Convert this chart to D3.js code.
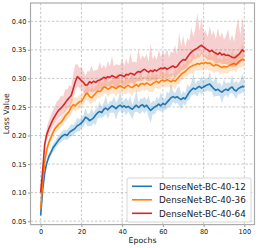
<!DOCTYPE html>
<html>
<head>
<meta charset="utf-8">
<script src="https://cdn.jsdelivr.net/npm/d3@7"></script>
<style>
  html, body { margin: 0; padding: 0; background: #fff; overflow: hidden; }
  svg { display: block; font-family: "DejaVu Sans", sans-serif; }
</style>
</head>
<body>
<svg id="chart" width="258" height="248" font-family="DejaVu Sans, sans-serif"></svg>
<script>
// Loss-Kurven der drei DenseNet-Varianten, ein Wert pro Epoche (0..100)
const epochs = d3.range(0, 101);

const seriesNames = ["DenseNet-BC-40-12", "DenseNet-BC-40-36", "DenseNet-BC-40-64"];
const seriesColors = ["#1f77b4", "#ff7f0e", "#d62728"];

const loss12 = [
  0.060, 0.105, 0.135, 0.152, 0.163, 0.170, 0.178, 0.183, 0.188, 0.193,
  0.197, 0.200, 0.202, 0.200, 0.205, 0.208, 0.210, 0.213, 0.217, 0.219,
  0.222, 0.226, 0.232, 0.230, 0.226, 0.228, 0.231, 0.236, 0.240, 0.242,
  0.240, 0.246, 0.248, 0.245, 0.249, 0.252, 0.250, 0.247, 0.251, 0.253,
  0.250, 0.252, 0.249, 0.251, 0.248, 0.246, 0.250, 0.253, 0.249, 0.252,
  0.254, 0.250, 0.253, 0.248, 0.244, 0.247, 0.250, 0.252, 0.255, 0.252,
  0.256, 0.254, 0.258, 0.262, 0.266, 0.268, 0.266, 0.268, 0.265, 0.263,
  0.266, 0.264, 0.270, 0.276, 0.280, 0.283, 0.281, 0.284, 0.286, 0.283,
  0.285, 0.287, 0.289, 0.290, 0.286, 0.282, 0.279, 0.281, 0.278, 0.276,
  0.279, 0.281, 0.279, 0.283, 0.285, 0.280, 0.278, 0.282, 0.284, 0.286,
  0.285
];
const loss36 = [
  0.072, 0.120, 0.155, 0.175, 0.188, 0.196, 0.205, 0.212, 0.216, 0.220,
  0.223, 0.228, 0.234, 0.238, 0.242, 0.250, 0.254, 0.252, 0.256, 0.259,
  0.260, 0.265, 0.272, 0.274, 0.268, 0.266, 0.270, 0.274, 0.278, 0.277,
  0.280, 0.285, 0.284, 0.281, 0.283, 0.286, 0.284, 0.282, 0.285, 0.287,
  0.285, 0.283, 0.286, 0.288, 0.285, 0.284, 0.287, 0.289, 0.286, 0.290,
  0.291, 0.289, 0.292, 0.290, 0.288, 0.291, 0.293, 0.295, 0.292, 0.296,
  0.297, 0.295, 0.298, 0.296, 0.294, 0.297, 0.295, 0.299, 0.303, 0.307,
  0.310, 0.312, 0.316, 0.319, 0.321, 0.323, 0.324, 0.326, 0.325, 0.327,
  0.326, 0.328, 0.326, 0.327, 0.324, 0.322, 0.324, 0.323, 0.321, 0.319,
  0.321, 0.320, 0.321, 0.323, 0.325, 0.326, 0.324, 0.328, 0.331, 0.333,
  0.332
];
const loss64 = [
  0.100, 0.140, 0.185, 0.202, 0.212, 0.220, 0.228, 0.234, 0.240, 0.245,
  0.248, 0.252, 0.257, 0.262, 0.266, 0.270, 0.282, 0.294, 0.303, 0.300,
  0.296, 0.293, 0.288, 0.289, 0.294, 0.292, 0.295, 0.293, 0.296, 0.297,
  0.299, 0.302, 0.300, 0.303, 0.302, 0.305, 0.303, 0.301, 0.304, 0.306,
  0.305, 0.303, 0.307, 0.306, 0.309, 0.308, 0.306, 0.310, 0.312, 0.311,
  0.314, 0.316, 0.313, 0.311, 0.314, 0.312, 0.315, 0.313, 0.316, 0.318,
  0.317, 0.319, 0.316, 0.318, 0.320, 0.322, 0.319, 0.321, 0.326, 0.330,
  0.333, 0.332, 0.337, 0.342, 0.346, 0.349, 0.351, 0.353, 0.356, 0.358,
  0.355, 0.352, 0.350, 0.347, 0.349, 0.346, 0.344, 0.342, 0.345, 0.341,
  0.343, 0.340, 0.341, 0.339, 0.337, 0.336, 0.338, 0.341, 0.345, 0.350,
  0.347
];

// Ausschläge über / unter dem Mittelwert, in Tausendstel
const up12 = [
  3, 4, 5, 5, 6, 6, 7, 7, 8, 8, 8,
  9, 8, 10, 9, 12, 8, 10, 14, 9, 11,
  9, 16, 8, 12, 20, 9, 11, 8, 18, 10,
  12, 22, 9, 11, 8, 19, 10, 12, 26, 9,
  10, 17, 9, 21, 8, 12, 28, 9, 13, 10,
  18, 9, 22, 11, 14, 9, 16, 8, 24, 10,
  9, 19, 11, 25, 10, 8, 14, 22, 9, 12,
  10, 20, 9, 13, 27, 9, 12, 10, 21, 11,
  14, 9, 22, 10, 12, 26, 9, 15, 10, 20,
  10, 14, 9, 21, 11, 18, 9, 12, 22, 10
];
const down12 = [
  3, 4, 5, 5, 6, 6, 7, 7, 7, 8, 8,
  8, 9, 8, 10, 9, 11, 8, 10, 12, 9,
  11, 9, 14, 10, 12, 9, 18, 10, 11, 9,
  13, 10, 16, 9, 12, 10, 20, 11, 9, 12,
  10, 14, 9, 12, 18, 10, 11, 9, 15, 10,
  12, 9, 16, 22, 10, 13, 9, 11, 10, 14,
  9, 12, 10, 15, 9, 11, 10, 13, 18, 10,
  12, 9, 14, 10, 11, 9, 16, 10, 12, 9,
  11, 10, 13, 9, 15, 10, 12, 9, 20, 11,
  10, 13, 9, 11, 10, 14, 9, 12, 10, 11
];
const up36 = [
  4, 5, 6, 6, 7, 7, 8, 8, 9, 9, 10,
  10, 11, 12, 10, 14, 11, 16, 10, 12, 11,
  13, 10, 18, 11, 22, 10, 14, 11, 20, 12,
  11, 24, 10, 13, 11, 21, 12, 28, 10, 14,
  12, 20, 10, 14, 26, 11, 15, 12, 24, 11,
  14, 11, 22, 12, 30, 11, 16, 10, 23, 13,
  12, 25, 11, 15, 10, 22, 13, 27, 11, 16,
  12, 21, 11, 15, 28, 10, 19, 13, 25, 12,
  15, 11, 24, 13, 18, 27, 11, 16, 12, 22,
  13, 19, 11, 26, 14, 21, 12, 17, 28, 14
];
const down36 = [
  4, 5, 6, 6, 7, 7, 8, 8, 9, 9, 9,
  10, 9, 11, 10, 12, 9, 11, 10, 12, 10,
  11, 10, 13, 11, 12, 10, 14, 11, 12, 10,
  12, 10, 14, 11, 13, 10, 15, 11, 12, 10,
  11, 13, 10, 12, 15, 11, 12, 10, 14, 11,
  12, 10, 14, 11, 16, 10, 12, 11, 13, 10,
  11, 14, 10, 12, 11, 15, 10, 13, 11, 12,
  10, 13, 11, 12, 14, 10, 12, 11, 13, 10,
  12, 11, 14, 10, 13, 12, 11, 14, 10, 12,
  11, 13, 10, 12, 11, 14, 10, 12, 13, 11
];
const up64 = [
  6, 8, 10, 12, 14, 15, 16, 18, 20, 18, 22,
  16, 24, 18, 22, 16, 26, 30, 22, 18, 24,
  20, 16, 24, 18, 30, 17, 22, 19, 32, 18,
  22, 17, 28, 19, 34, 18, 24, 20, 17, 30,
  19, 28, 18, 36, 20, 24, 17, 40, 21, 27,
  19, 30, 18, 48, 21, 26, 19, 34, 20, 30,
  22, 36, 19, 28, 22, 40, 20, 55, 26, 42,
  22, 34, 24, 44, 23, 38, 62, 27, 48, 25,
  32, 22, 44, 26, 38, 24, 46, 27, 40, 25,
  34, 46, 26, 40, 28, 50, 64, 30, 56, 36
];
const down64 = [
  5, 7, 9, 10, 11, 12, 12, 13, 13, 14, 14,
  14, 15, 14, 16, 15, 17, 16, 18, 16, 17,
  16, 18, 15, 17, 16, 19, 15, 17, 16, 18,
  15, 17, 16, 18, 15, 17, 16, 19, 15, 17,
  16, 18, 15, 17, 16, 19, 15, 17, 16, 18,
  15, 17, 16, 18, 15, 19, 16, 17, 15, 18,
  16, 17, 15, 18, 16, 19, 15, 17, 16, 18,
  15, 17, 16, 18, 15, 17, 16, 19, 15, 17,
  16, 18, 15, 17, 16, 19, 15, 17, 16, 18,
  15, 17, 16, 18, 15, 17, 16, 19, 15, 17
];

const xTicks = [0, 20, 40, 60, 80, 100];
const yTicks = [0.05, 0.10, 0.15, 0.20, 0.25, 0.30, 0.35, 0.40];

const series = [
  { name: seriesNames[0], color: seriesColors[0], mean: loss12, up: up12, down: down12 },
  { name: seriesNames[1], color: seriesColors[1], mean: loss36, up: up36, down: down36 },
  { name: seriesNames[2], color: seriesColors[2], mean: loss64, up: up64, down: down64 }
];

const width = 258, height = 248;
const margin = { top: 3, right: 3.5, bottom: 23.4, left: 30.5 };
const innerWidth  = width  - margin.left - margin.right;
const innerHeight = height - margin.top  - margin.bottom;

const svg = d3.select("#chart");
const g = svg.append("g")
  .attr("transform", `translate(${margin.left},${margin.top})`);

const x = d3.scaleLinear().domain([-5, 105]).range([0, innerWidth]);
const y = d3.scaleLinear().domain([0.044, 0.432]).range([innerHeight, 0]);

// Schriftgrößen (DejaVu Sans, an die Textbreiten im Bild angepasst)
const fsTick = 6.6, fsTitle = 7.8, fsLegend = 8.8;

// Gitter
g.append("g")
  .selectAll("line")
  .data(xTicks)
  .join("line")
  .attr("x1", d => x(d)).attr("x2", d => x(d))
  .attr("y1", 0).attr("y2", innerHeight)
  .attr("stroke", "#b0b0b0").attr("stroke-width", 0.7)
  .attr("stroke-dasharray", "2.5,1.8");
g.append("g")
  .selectAll("line")
  .data(yTicks)
  .join("line")
  .attr("x1", 0).attr("x2", innerWidth)
  .attr("y1", d => y(d)).attr("y2", d => y(d))
  .attr("stroke", "#b0b0b0").attr("stroke-width", 0.7)
  .attr("stroke-dasharray", "2.5,1.8");

// Bänder und Mittelwertlinien
const area = d3.area()
  .x(d => x(d.e))
  .y0(d => y(d.m - d.lo / 1000))
  .y1(d => y(d.m + d.hi / 1000));

const line = d3.line()
  .x((d, i) => x(epochs[i]))
  .y(d => y(d));

series.forEach(s => {
  const pts = s.mean.map((m, i) => ({ e: epochs[i], m, hi: s.up[i], lo: s.down[i] }));
  g.append("path")
    .datum(pts)
    .attr("d", area)
    .attr("fill", s.color)
    .attr("fill-opacity", 0.22);
  g.append("path")
    .datum(s.mean)
    .attr("d", line)
    .attr("fill", "none")
    .attr("stroke", s.color)
    .attr("stroke-width", 1.6)
    .attr("stroke-linejoin", "round");
});

// Achsen
const xAxis = g.append("g")
  .attr("transform", `translate(0,${innerHeight})`)
  .call(d3.axisBottom(x).tickValues(xTicks).tickSize(2.5).tickPadding(2));
const yAxis = g.append("g")
  .call(d3.axisLeft(y).tickValues(yTicks).tickFormat(d3.format(".2f")).tickSize(2.5).tickPadding(1.5));

[xAxis, yAxis].forEach(a => {
  a.attr("font-family", "DejaVu Sans, sans-serif").attr("font-size", fsTick);
  a.select(".domain").remove();
  a.selectAll("line").attr("stroke", "#555").attr("stroke-width", 0.6);
  a.selectAll("text").attr("fill", "#222");
});

// Rahmen
g.append("rect")
  .attr("x", 0).attr("y", 0)
  .attr("width", innerWidth).attr("height", innerHeight)
  .attr("fill", "none")
  .attr("stroke", "#aaaaaa")
  .attr("stroke-width", 1.2);

// Achsentitel
svg.append("text")
  .attr("x", margin.left + innerWidth / 2)
  .attr("y", 243)
  .attr("text-anchor", "middle")
  .attr("font-size", fsTitle)
  .attr("fill", "#222")
  .text("Epochs");

svg.append("text")
  .attr("transform", `translate(9,${margin.top + innerHeight / 2}) rotate(-90)`)
  .attr("text-anchor", "middle")
  .attr("font-size", fsTitle)
  .attr("fill", "#222")
  .text("Loss Value");

// Legende
const legend = svg.append("g").attr("transform", "translate(127,178)");
legend.append("rect")
  .attr("width", 124).attr("height", 44)
  .attr("rx", 2)
  .attr("fill", "#fff").attr("fill-opacity", 0.85)
  .attr("stroke", "#cccccc").attr("stroke-width", 0.8);

const rows = legend.selectAll("g.row")
  .data(series)
  .join("g")
  .attr("class", "row")
  .attr("transform", (d, i) => `translate(0,${8.3 + i * 13.5})`);
rows.append("line")
  .attr("x1", 5).attr("x2", 25)
  .attr("stroke", d => d.color).attr("stroke-width", 1.6);
rows.append("text")
  .attr("x", 32).attr("y", 3.2)
  .attr("font-size", fsLegend)
  .attr("fill", "#222")
  .text(d => d.name);
</script>
</body>
</html>
